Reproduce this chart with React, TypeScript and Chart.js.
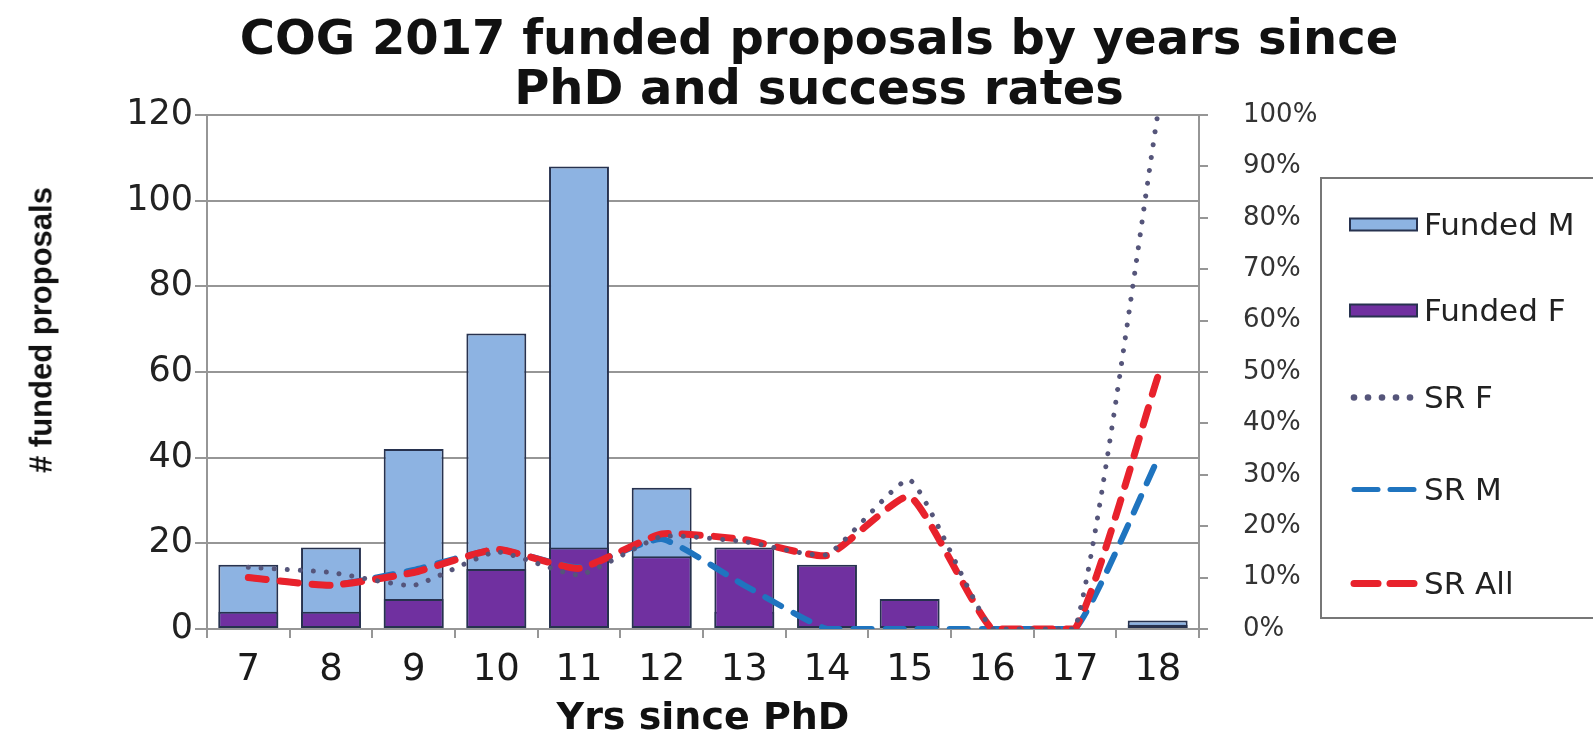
import React, { useEffect, useRef } from "react";
import { Chart, registerables } from "chart.js";

Chart.register(...registerables);

// ---- data ----
const years = ["7", "8", "9", "10", "11", "12", "13", "14", "15", "16", "17", "18"];
const fundedM = [15, 19, 42, 69, 108, 33, 4, 0, 0, 0, 0, 2];
const fundedF = [4, 4, 7, 14, 19, 17, 19, 15, 7, 0, 0, 1];
const srF = [12, 11, 8.5, 15, 10.5, 18, 17, 14.5, 29, 0, 0, 100];
const srM = [10, 8.5, 11.5, 15.5, 12, 17.5, 8.5, 0, 0, 0, 0, 33];
const srAll = [10, 8.5, 11, 15.5, 11.8, 18.5, 17.4, 14.3, 25.8, 0, 0, 49];
const leftAxis = { min: 0, max: 120, step: 20 };
const rightAxis = { min: 0, max: 100, step: 10 };

const titleLines = ["COG 2017 funded proposals by years since", "PhD and success rates"];
const xTitle = "Yrs since PhD";
const yTitle = "# funded proposals";
const names = { m: "Funded M", f: "Funded F", srF: "SR F", srM: "SR M", srAll: "SR All" };

const C = {
  m: "#8db3e2",
  f: "#7030a0",
  barBorder: "#27324f",
  srF: "#55557a",
  srM: "#1f74bf",
  srAll: "#e8222c",
  grid: "#969696",
};

const FONT = "DejaVu Sans";

export default function App() {
  const ref = useRef<HTMLCanvasElement>(null);

  useEffect(() => {
    const canvas = ref.current;
    if (!canvas) return;
    const chart = new Chart(canvas, {
      data: {
        labels: years,
        datasets: [
          {
            type: "line",
            label: names.srF,
            data: srF,
            yAxisID: "y1",
            borderColor: C.srF,
            backgroundColor: C.srF,
            borderWidth: 5,
            borderDash: [0.01, 13],
            borderCapStyle: "round",
            pointRadius: 0,
            tension: 0.15,
            order: 1,
          },
          {
            type: "line",
            label: names.srAll,
            data: srAll,
            yAxisID: "y1",
            borderColor: C.srAll,
            backgroundColor: C.srAll,
            borderWidth: 7,
            borderDash: [18, 14],
            borderCapStyle: "round",
            pointRadius: 0,
            tension: 0.15,
            order: 2,
          },
          {
            type: "line",
            label: names.srM,
            data: srM,
            yAxisID: "y1",
            borderColor: C.srM,
            backgroundColor: C.srM,
            borderWidth: 6,
            borderDash: [18, 14],
            borderCapStyle: "round",
            pointRadius: 0,
            tension: 0.15,
            order: 3,
          },
          {
            type: "bar",
            label: names.f,
            data: fundedF,
            yAxisID: "y",
            backgroundColor: C.f,
            borderColor: C.barBorder,
            borderWidth: 2,
            borderSkipped: false,
            grouped: false,
            order: 4,
          },
          {
            type: "bar",
            label: names.m,
            data: fundedM,
            yAxisID: "y",
            backgroundColor: C.m,
            borderColor: C.barBorder,
            borderWidth: 2,
            borderSkipped: false,
            grouped: false,
            order: 5,
          },
        ],
      } as any,
      options: {
        responsive: false,
        animation: false,
        devicePixelRatio: 1,
        layout: { padding: { left: 45, right: 0, top: 0, bottom: 0 } },
        datasets: {
          bar: { barPercentage: 0.725, categoryPercentage: 1 },
        } as any,
        plugins: {
          legend: { display: false },
          tooltip: { enabled: false },
          title: {
            display: true,
            text: titleLines,
            color: "#111",
            font: { family: FONT, weight: "bold", size: 48, lineHeight: 50 / 48 },
            padding: { top: 17, bottom: -2 },
          },
        },
        scales: {
          x: {
            type: "category",
            offset: true,
            grid: {
              offset: true,
              drawOnChartArea: false,
              drawTicks: true,
              tickLength: 9,
              color: C.grid,
              lineWidth: 2,
            },
            border: { display: true, color: C.grid, width: 2 },
            ticks: {
              color: "#1a1a1a",
              font: { family: FONT, size: 37, lineHeight: 1 },
              padding: 14,
              maxRotation: 0,
              autoSkip: false,
            },
            title: {
              display: true,
              text: xTitle,
              color: "#111",
              font: { family: FONT, weight: "bold", size: 38, lineHeight: 0.75 },
              padding: { top: 1.5, bottom: -3 },
            },
          },
          y: {
            type: "linear",
            position: "left",
            min: leftAxis.min,
            max: leftAxis.max,
            ticks: {
              stepSize: leftAxis.step,
              color: "#222",
              font: { family: FONT, size: 35 },
              padding: 2,
            },
            grid: { color: C.grid, lineWidth: 2, tickLength: 12, drawTicks: true },
            border: { display: true, color: C.grid, width: 2 },
            afterFit: (s: any) => {
              s.width = 162;
            },
          },
          y1: {
            type: "linear",
            position: "right",
            min: rightAxis.min,
            max: rightAxis.max,
            ticks: {
              stepSize: rightAxis.step,
              color: "#333",
              font: { family: FONT, size: 26 },
              padding: 35,
              callback: (v: any) => v + "%",
            },
            grid: { drawOnChartArea: false, drawTicks: true, tickLength: 9, color: C.grid, lineWidth: 2 },
            border: { display: true, color: C.grid, width: 2 },
            afterFit: (s: any) => {
              s.width = 1593 - 1199;
            },
          },
        },
      } as any,
    });
    return () => chart.destroy();
  }, []);

  const legendItems = [
    { key: names.m, y: 224, kind: "bar", color: C.m },
    { key: names.f, y: 310, kind: "bar", color: C.f },
    { key: names.srF, y: 397, kind: "dot", color: C.srF },
    { key: names.srM, y: 489, kind: "dash", color: C.srM },
    { key: names.srAll, y: 583, kind: "dashThick", color: C.srAll },
  ];

  const swatch = (kind: string, color: string) => {
    if (kind === "bar") {
      return (
        <svg width={70} height={16}>
          <rect x={1} y={2} width={67} height={12} fill={color} stroke={C.barBorder} strokeWidth={2} />
        </svg>
      );
    }
    if (kind === "dot") {
      return (
        <svg width={70} height={16}>
          {[5, 19, 33, 47, 61].map((cx) => (
            <circle key={cx} cx={cx} cy={8} r={3.3} fill={color} />
          ))}
        </svg>
      );
    }
    const w = kind === "dashThick" ? 7 : 5;
    return (
      <svg width={70} height={16}>
        <line x1={5} y1={8} x2={29} y2={8} stroke={color} strokeWidth={w} strokeLinecap="round" />
        <line x1={41} y1={8} x2={65} y2={8} stroke={color} strokeWidth={w} strokeLinecap="round" />
      </svg>
    );
  };

  return (
    <div
      style={{
        position: "fixed",
        left: 0,
        top: 0,
        width: 1593,
        height: 730,
        background: "#fff",
        overflow: "hidden",
      }}
    >
      <canvas ref={ref} width={1593} height={730} style={{ position: "absolute", left: 0, top: 0 }} />
      <div
        style={{
          position: "absolute",
          left: 41,
          top: 330,
          transform: "translate(-50%, -50%) rotate(-90deg)",
          whiteSpace: "nowrap",
          fontFamily: "Liberation Sans",
          fontWeight: "bold",
          fontSize: 31,
          color: "#111",
          lineHeight: 1,
        }}
      >
        {yTitle}
      </div>
      <div
        style={{
          position: "absolute",
          left: 1320,
          top: 177,
          width: 320,
          height: 442,
          border: "2px solid #777",
          boxSizing: "border-box",
        }}
      />
      {legendItems.map((it) => (
        <div
          key={it.key}
          style={{
            position: "absolute",
            left: 1349,
            top: it.y,
            transform: "translateY(-50%)",
            display: "flex",
            alignItems: "center",
            whiteSpace: "nowrap",
            fontFamily: FONT,
            fontSize: 31,
            color: "#222",
            lineHeight: 1,
          }}
        >
          {swatch(it.kind, it.color)}
          <span style={{ marginLeft: 5 }}>{it.key}</span>
        </div>
      ))}
    </div>
  );
}
